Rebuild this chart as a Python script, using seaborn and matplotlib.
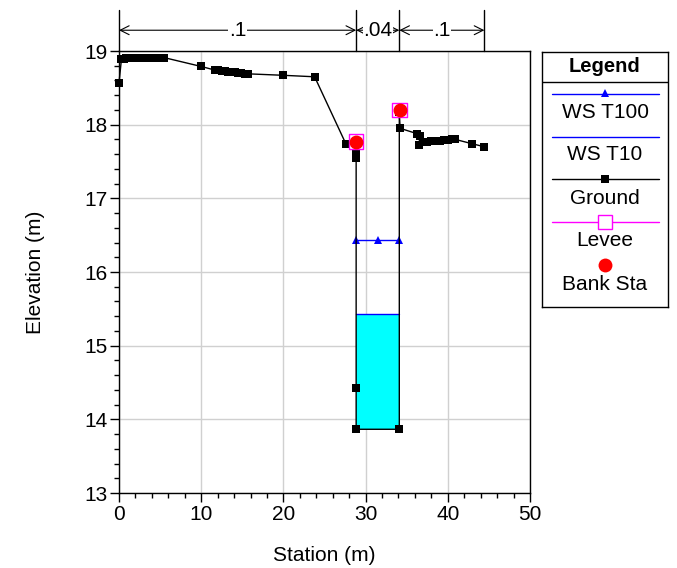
import numpy as np
import pandas as pd
import seaborn as sns
import matplotlib
matplotlib.use('Agg')
from matplotlib import pyplot as plt
from matplotlib.ticker import MultipleLocator
import matplotlib.transforms as mtransforms

# ground profile (station m, elevation m)
ground_sta = [0.0, 0.3, 0.6, 0.9, 1.2, 1.5, 1.8, 2.1, 2.4, 2.7, 3.0, 3.3, 3.6, 3.9, 4.2, 4.5, 4.8, 5.1, 5.5,
              10.0, 11.7, 12.1, 12.5, 12.9, 13.3, 13.7, 14.1, 14.5, 14.9, 15.3, 15.7,
              20.0, 23.8, 27.6, 28.85, 28.85, 28.85, 28.85, 28.85,
              34.1, 34.1, 34.2, 36.2, 36.6, 36.5, 37.0, 37.5, 38.0, 38.5, 39.0, 39.5, 40.0, 40.5, 40.9, 43.0, 44.45]
ground_elev = [18.57, 18.89, 18.89, 18.9, 18.9, 18.9, 18.9, 18.9, 18.9, 18.9, 18.9, 18.9, 18.91, 18.91, 18.91, 18.91, 18.91, 18.91, 18.91,
               18.79, 18.74, 18.74, 18.73, 18.73, 18.72, 18.72, 18.71, 18.7, 18.7, 18.69, 18.69,
               18.67, 18.65, 17.74, 17.77, 17.62, 17.55, 14.42, 13.865,
               13.865, 18.17, 17.95, 17.88, 17.85, 17.73, 17.76, 17.77, 17.78, 17.78, 17.78, 17.79, 17.79, 17.8, 17.8, 17.74, 17.7]

ws100_sta = [28.85, 31.5, 34.1]
ws100_elev = [16.44, 16.44, 16.44]
ws10_sta = [28.85, 34.1]
ws10_elev = [15.43, 15.43]
levee_sta = [28.85, 34.15]
levee_elev = [17.77, 18.2]
bank_sta = [28.85, 34.15]
bank_elev = [17.77, 18.2]

# manning's n regions
n_breaks = [0.0, 28.85, 34.1, 44.45]
n_values = ['.1', '.04', '.1']

FS = 15

sns.set_style('white')
plt.rcParams['font.family'] = ['Liberation Sans', 'DejaVu Sans']
plt.rcParams['text.color'] = 'black'
plt.rcParams['axes.labelcolor'] = 'black'

fig = plt.figure(figsize=(6.77, 5.68), dpi=100)
ax = fig.add_axes([119 / 677, 1 - 493 / 568, 411 / 677, 442 / 568])

# water fill for WS T10
ax.fill_between(ws10_sta, [13.865, 13.865], ws10_elev, color='#00ffff', zorder=2, linewidth=0)

ground_df = pd.DataFrame({'sta': ground_sta, 'elev': ground_elev})
sns.lineplot(data=ground_df, x='sta', y='elev', sort=False, estimator=None, ax=ax, color='black',
             linewidth=1.0, marker='s', markersize=5.8, markeredgewidth=0, zorder=4)
sns.lineplot(x=ws100_sta, y=ws100_elev, ax=ax, color='#0000ff', linewidth=1.0, marker='^',
             markersize=6, markeredgewidth=0, zorder=3)
sns.lineplot(x=ws10_sta, y=ws10_elev, ax=ax, color='#0000ff', linewidth=1.0, zorder=3)
for ln in ax.lines:
    ln.set_clip_on(False)
sns.scatterplot(x=levee_sta, y=levee_elev, ax=ax, marker='s', s=110, facecolor='none',
                edgecolor='#ff00ff', linewidth=1.0, zorder=5)
sns.scatterplot(x=bank_sta, y=bank_elev, ax=ax, color='#ff0000', s=100, linewidth=0, zorder=6)

ax.set_xlim(0, 50)
ax.set_ylim(13, 19)
ax.xaxis.set_major_locator(MultipleLocator(10))
ax.xaxis.set_minor_locator(MultipleLocator(2))
ax.yaxis.set_major_locator(MultipleLocator(1))
ax.yaxis.set_minor_locator(MultipleLocator(0.2))
ax.grid(True, which='major', color='#d0d0d0', linewidth=1.0, zorder=0)
ax.set_axisbelow(True)
ax.tick_params(which='major', direction='out', length=6.5, width=1, labelsize=FS, bottom=True, left=True,
               colors='black', pad=2)
ax.tick_params(which='minor', direction='out', length=3.5, width=1, bottom=True, left=True, colors='black')
for sp in ax.spines.values():
    sp.set_color('black')
    sp.set_linewidth(1.0)
ax.set_xlabel('Station (m)', fontsize=FS, labelpad=16, color='black')
ax.set_ylabel('Elevation (m)', fontsize=FS, labelpad=28, color='black')

# manning's n dimension lines above the plot
trans = mtransforms.blended_transform_factory(ax.transData, ax.transAxes)
for b in n_breaks:
    ax.plot([b, b], [1.0, 1.093], transform=trans, color='black', linewidth=1.0, clip_on=False)
for i, n in enumerate(n_values):
    x0, x1 = n_breaks[i], n_breaks[i + 1]
    ax.annotate('', xy=(x0, 1.047), xytext=(x1, 1.047), xycoords=trans, textcoords=trans,
                arrowprops=dict(arrowstyle='<->', color='black', linewidth=0.8, shrinkA=0, shrinkB=0,
                                mutation_scale=16))
    ax.text((x0 + x1) / 2, 1.047, n, transform=trans, ha='center', va='center', fontsize=FS,
            color='black', bbox=dict(facecolor='white', edgecolor='none', pad=0.5))

# legend box
lg = fig.add_axes([542 / 677, 1 - 307 / 568, 126 / 677, 255 / 568])
lg.set_xlim(0, 126)
lg.set_ylim(255, 0)
lg.set_xticks([])
lg.set_yticks([])
for sp in lg.spines.values():
    sp.set_color('black')
    sp.set_linewidth(1.0)
lg.text(63, 14, 'Legend', ha='center', va='center', fontsize=FS - 0.5, fontweight='bold', color='black')
lg.plot([0, 126], [30, 30], color='black', linewidth=1.0)
cx = 63
lg.plot([10, 117], [42, 42], color='#0000ff', linewidth=1.0)
lg.plot([cx], [41], marker='^', color='#0000ff', markersize=6, markeredgewidth=0)
lg.text(cx, 61, 'WS T100', ha='center', va='center', fontsize=FS, color='black')
lg.plot([10, 117], [85, 85], color='#0000ff', linewidth=1.0)
lg.text(cx, 103, 'WS T10', ha='center', va='center', fontsize=FS, color='black')
lg.plot([10, 117], [127, 127], color='black', linewidth=1.0)
lg.plot([cx], [127], marker='s', color='black', markersize=6, markeredgewidth=0)
lg.text(cx, 146, 'Ground', ha='center', va='center', fontsize=FS, color='black')
lg.plot([10, 117], [170, 170], color='#ff00ff', linewidth=1.0)
lg.plot([cx], [170], marker='s', markerfacecolor='white', markeredgecolor='#ff00ff', markersize=10, markeredgewidth=1.0)
lg.text(cx, 188, 'Levee', ha='center', va='center', fontsize=FS, color='black')
lg.plot([cx], [213], marker='o', color='#ff0000', markersize=10, markeredgewidth=0)
lg.text(cx, 233, 'Bank Sta', ha='center', va='center', fontsize=FS, color='black')

fig.savefig('out.png', dpi=100)
